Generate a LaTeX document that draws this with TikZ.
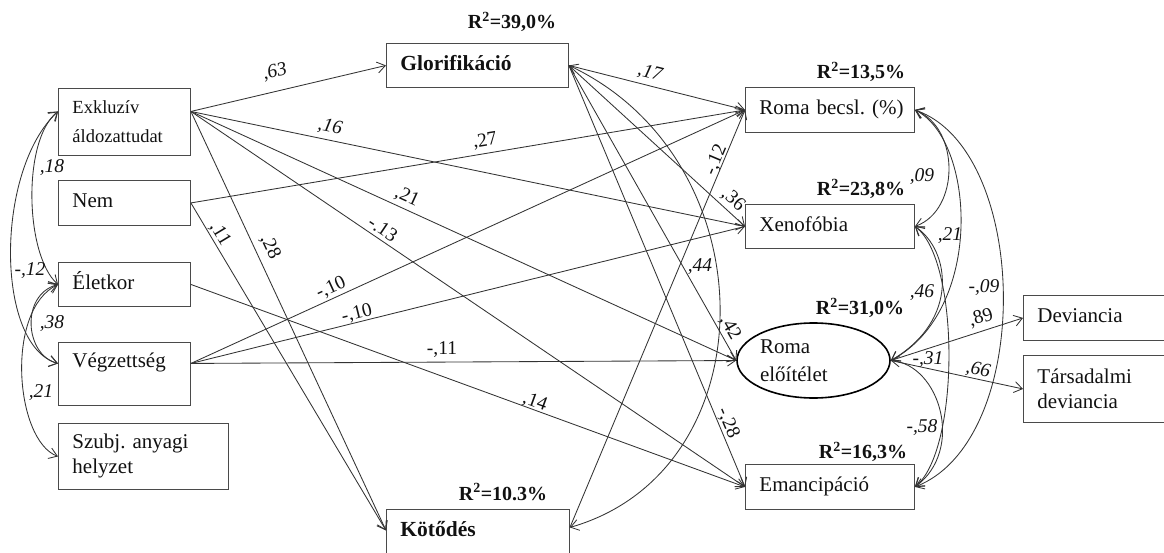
\documentclass[tikz,border=0pt]{standalone}
\usepackage{fontspec}
\setmainfont{Liberation Serif}
\usetikzlibrary{arrows.meta,shapes.geometric,calc}
\definecolor{ln}{HTML}{333333}
\definecolor{bx}{HTML}{4a4a4a}
\definecolor{tx}{HTML}{111111}
\begin{document}
\begin{tikzpicture}[x=1pt,y=-1pt,
  box/.style={draw=bx, line width=0.9pt, rectangle, anchor=north west, inner xsep=14pt, inner ysep=0pt, align=left, text=tx, font=\fontsize{21}{25}\selectfont},
  one/.style={text height=14.5pt, text depth=5pt},
  tipb/.tip={Straight Barb[length=8pt,width=11pt,line width=0.85pt]},
  arr/.style={draw=ln, line width=0.85pt, -tipb},
  cov/.style={draw=ln, line width=0.85pt, tipb-tipb},
  lab/.style={font=\fontsize{19.5}{19.5}\selectfont, text=tx, inner sep=0pt},
  labi/.style={font=\fontsize{19.5}{19.5}\selectfont\itshape, text=tx, inner sep=0pt},
  rsq/.style={font=\fontsize{20}{20}\selectfont\bfseries, text=tx, inner sep=0pt}
]
\useasboundingbox (0,0) rectangle (1164,553);
\clip (0,0) rectangle (1164,553);

% ---------- boxes ----------
\node[box, text width=104pt, minimum height=67pt, font=\fontsize{18.5}{29}\selectfont] (exk) at (58,88) {Exkluzív\\áldozattudat};
\node[box, one, text width=104pt, minimum height=45pt] (nem) at (58,180) {Nem};
\node[box, one, text width=104pt, minimum height=44pt] (elet) at (58,262) {Életkor};
\node[box, text height=14.5pt, text depth=28pt, text width=104pt, minimum height=63pt] (veg) at (58,342) {Végzettség};
\node[box, text width=142pt, minimum height=66pt] (szub) at (58,423) {Szubj.\ anyagi\\helyzet};
\node[box, one, text width=154pt, minimum height=44pt, font=\fontsize{21.5}{25}\selectfont\bfseries] (glo) at (386,43) {Glorifikáció};
\node[box, text height=14.5pt, text depth=11pt, text width=155pt, minimum height=50pt, font=\fontsize{21.5}{25}\selectfont\bfseries] (kot) at (386,509) {Kötődés};
\node[box, one, text width=141pt, minimum height=45pt] (rb) at (745,87) {\mbox{Roma becsl.\ (\%)}};
\node[box, one, text width=141pt, minimum height=44pt] (xen) at (745,204) {Xenofóbia};
\node[box, one, text width=141pt, minimum height=45pt] (ema) at (745,464) {Emancipáció};
\node[box, one, text width=140pt, minimum height=45pt] (dev) at (1023,295) {Deviancia};
\node[box, text width=140pt, minimum height=67pt] (td) at (1023,355) {Társadalmi\\deviancia};
\node[draw=black, line width=1.6pt, ellipse, minimum width=153pt, minimum height=75pt, inner sep=0pt, text width=107pt, align=left, font=\fontsize{21}{28}\selectfont, text=tx] (rp) at (813.5,360.5) {Roma\\előítélet};

% ---------- R squared ----------
\node[rsq] (r1) at (512,22) {R\textsuperscript{2}=39,0\%};
\node[rsq] (r2) at (861,72) {R\textsuperscript{2}=13,5\%};
\node[rsq] (r3) at (861,189) {R\textsuperscript{2}=23,8\%};
\node[rsq] (r4) at (860,308) {R\textsuperscript{2}=31,0\%};
\node[rsq] (r5) at (863,452) {R\textsuperscript{2}=16,3\%};
\node[rsq] (r6) at (503,492) {R\textsuperscript{2}=10.3\%};

% ---------- ports ----------
\coordinate (exkR) at ([yshift=10.5pt]exk.east);
\coordinate (exkL) at ([yshift=10.5pt]exk.west);
\coordinate (vegR) at ([yshift=10.5pt]veg.east);
\coordinate (vegL) at ([yshift=10.5pt]veg.west);
\coordinate (kotL) at ([yshift=4pt]kot.west);
\coordinate (kotR) at ([yshift=7pt]kot.east);

% ---------- structural paths ----------
\draw[arr] (exkR) -- (glo.west);
\draw[arr] (exkR) -- (xen.west);
\draw[arr] (exkR) -- (rp.west);
\draw[arr] (exkR) -- (ema.west);
\draw[arr] (exkR) -- (kotL);
\draw[arr] (nem.east) -- (rb.west);
\draw[arr] (nem.east) -- (kotL);
\draw[arr] (elet.east) -- (ema.west);
\draw[arr] (vegR) -- (rb.west);
\draw[arr] (vegR) -- (xen.west);
\draw[arr] (vegR) -- (rp.west);
\draw[arr] (glo.east) -- (rb.west);
\draw[arr] (glo.east) -- (xen.west);
\draw[arr] (glo.east) -- (rp.west);
\draw[arr] (glo.east) -- (ema.west);
\draw[arr] (kotR) -- (rb.west);
\draw[cov] (glo.east) .. controls (770,160) and (770,470) .. (kotR);
\draw[arr] (rp.east) -- (dev.west);
\draw[arr] (rp.east) -- (td.west);

% ---------- right covariances ----------
\draw[cov] (rb.east) .. controls (960,128) and (960,210) .. (xen.east);
\draw[cov] (rb.east) .. controls (975,140) and (985,310) .. (rp.east);
\draw[cov] (rb.east) .. controls (1030,150) and (1035,440) .. (ema.east);
\draw[cov] (xen.east) .. controls (950,250) and (960,320) .. (rp.east);
\draw[cov] (xen.east) .. controls (960,260) and (960,450) .. (ema.east);
\draw[cov] (rp.east) .. controls (940,365) and (965,450) .. (ema.east);

% ---------- left covariances ----------
\draw[cov] (exkL) .. controls (22,140) and (25,255) .. (elet.west);
\draw[cov] (exkL) .. controls (-5,170) and (-5,345) .. (vegL);
\draw[cov] (elet.west) .. controls (20,295) and (25,355) .. (vegL);
\draw[cov] (elet.west) .. controls (5,310) and (15,440) .. (szub.west);

% ---------- coefficient labels ----------
\node[labi, rotate=13] (l63) at (275,72) {,63};
\node[labi, rotate=-11.7] (l16) at (330,127) {,16};
\node[lab, rotate=9.5] (l27) at (485,141) {,27};
\node[lab, rotate=-24.5] (l21a) at (407,197) {,21};
\node[lab, rotate=-34] (l13) at (383,229) {-.13};
\node[lab, rotate=24.5] (l10a) at (331,288) {-,10};
\node[lab, rotate=14] (l10b) at (357,314) {-,10};
\node[lab] (l11b) at (442,350) {-,11};
\node[lab, rotate=-20] (l14) at (535,402) {,14};
\node[lab, rotate=-59] (l11) at (220,234) {,11};
\node[lab, rotate=-65] (l28) at (270,247) {,28};
\node[labi, rotate=-14] (l17) at (650,73) {,17};
\node[lab, rotate=67] (l12r) at (716,160) {-,12};
\node[lab, rotate=-42] (l36) at (733,200) {,36};
\node[labi] (l44) at (700,267) {,44};
\node[lab, rotate=-60] (l42) at (730,328) {,42};
\node[lab, rotate=-67] (l28n) at (728,423) {-,28};
\node[lab, rotate=17] (l89) at (981,318) {,89};
\node[labi, rotate=-12] (l66) at (978,370) {,66};
\node[labi] (l09) at (922,177) {,09};
\node[labi] (l21r) at (950,236) {,21};
\node[labi] (l46) at (922,293) {,46};
\node[labi] (l09n) at (984,288) {-,09};
\node[labi] (l31) at (928,360) {-,31};
\node[labi] (l58) at (922,428) {-,58};
\node[labi] (l18) at (52,168) {,18};
\node[labi] (l12l) at (30,271) {-,12};
\node[labi] (l38) at (52,324) {,38};
\node[labi] (l21l) at (41,393) {,21};
\end{tikzpicture}
\end{document}
